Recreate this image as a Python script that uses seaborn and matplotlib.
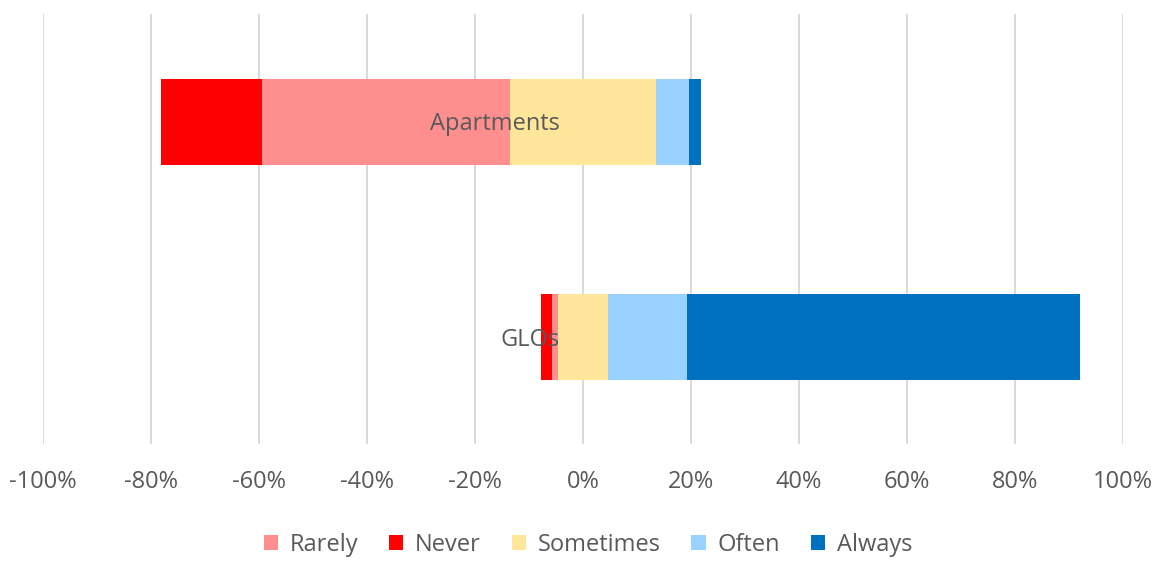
import numpy as np
import pandas as pd
import matplotlib
matplotlib.use('Agg')
import matplotlib.pyplot as plt
import seaborn as sns
from matplotlib.patches import Patch

# Data (percent of respondents)
categories = ['Apartments', 'GLOs']
never = [18.7, 2.2]
rarely = [45.9, 1.0]
sometimes = [27.0, 9.3]
often = [6.2, 14.7]
always = [2.2, 72.6]

legend_order = ['Rarely', 'Never', 'Sometimes', 'Often', 'Always']
colors = {
    'Rarely': '#FF8F8F',
    'Never': '#FF0000',
    'Sometimes': '#FFE699',
    'Often': '#99D1FF',
    'Always': '#0070C0',
}

sns.set_style('white')
plt.rcParams['font.family'] = ['Open Sans', 'DejaVu Sans']
text_color = '#595959'
fs = 17

df = pd.DataFrame({'Never': never, 'Rarely': rarely, 'Sometimes': sometimes,
                   'Often': often, 'Always': always}, index=categories)

# Diverging layout: half of "Sometimes" on each side of zero
half = df['Sometimes'] / 2
segments = [
    ('Never', -(half + df['Rarely'] + df['Never'])),
    ('Rarely', -(half + df['Rarely'])),
    ('Sometimes', -half),
    ('Always', half + df['Often'] + df['Always']),
    ('Often', half + df['Often']),
    ('Sometimes', half),
]

fig = plt.figure(figsize=(11.62, 5.62), dpi=100)
ax = fig.add_axes([43 / 1162, 118 / 562, 1080 / 1162, 430 / 562])

for name, vals in segments:
    sns.barplot(x=list(vals), y=categories, orient='h', color=colors[name],
                saturation=1, width=0.4, linewidth=0, errorbar=None, ax=ax)

ax.set_xlim(-100, 100)
ticks = np.arange(-100, 101, 20)
ax.set_xticks(ticks)
ax.set_xticklabels([f'{t}%' for t in ticks], fontsize=fs, color=text_color)
ax.xaxis.grid(True, color='#D9D9D9', linewidth=1.4)
ax.yaxis.grid(False)
ax.set_xlabel('')
ax.set_ylabel('')

for s in ax.spines.values():
    s.set_visible(False)
ax.spines['left'].set_position(('data', 0))
ax.tick_params(axis='x', length=0, pad=19)
ax.tick_params(axis='y', length=0, pad=17, labelsize=fs, labelcolor=text_color)

# gridlines behind bars, category labels above them
ax.xaxis.set_zorder(0.5)
ax.yaxis.set_zorder(5)

handles = [Patch(facecolor=colors[n], edgecolor='none') for n in legend_order]
fig.legend(handles, legend_order, loc='center', bbox_to_anchor=(0.506, 0.03),
           ncol=5, frameon=False, fontsize=fs, labelcolor=text_color,
           handlelength=0.6, handleheight=0.6, handletextpad=0.5,
           columnspacing=1.3)

fig.savefig('out.png', dpi=100)
